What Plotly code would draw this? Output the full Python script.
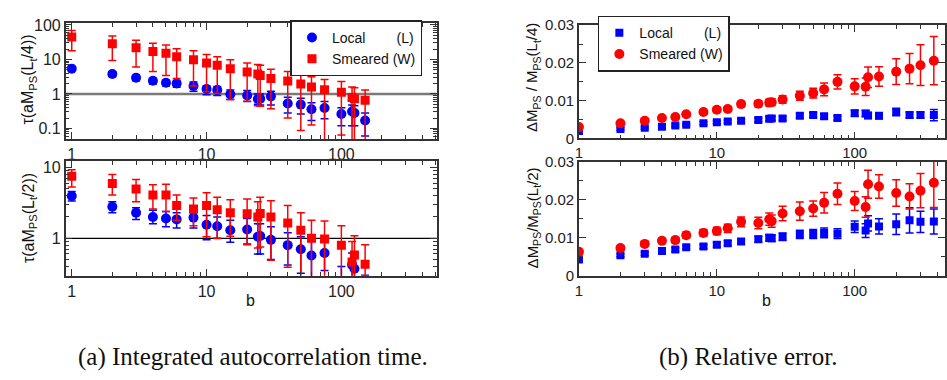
import plotly.graph_objects as go

# ---------------- data ----------------
b_left = [1, 2, 3, 4, 5, 6, 8, 10, 12, 15, 20, 24, 25, 30, 40, 50, 60, 75, 100, 120, 125, 150]
b_right = b_left + [200, 250, 300, 375]

# (a) top: tau(aM_PS(L_t/4))
loc_tau4 = [5.4, 3.8, 2.95, 2.4, 2.1, 2.0, 1.7, 1.38, 1.3, 0.98, 0.9, 0.71, 0.72, 0.85, 0.53, 0.49, 0.36, 0.39, 0.26, 0.31, 0.28, 0.17]
loc_tau4_hi = [6.0, 4.4, 3.5, 2.8, 2.5, 2.45, 2.2, 1.7, 1.65, 1.3, 1.25, 1.0, 1.0, 1.2, 0.8, 0.75, 0.55, 0.6, 0.4, 0.48, 0.45, 0.28]
loc_tau4_lo = [4.8, 3.2, 2.4, 1.95, 1.7, 1.55, 1.2, 0.94, 0.9, 0.7, 0.6, 0.5, 0.48, 0.48, 0.28, 0.26, 0.17, 0.19, 0.12, 0.12, 0.12, 0.06]
sme_tau4 = [45, 28.4, 21.9, 17, 15, 12, 9.8, 7.9, 6.8, 5.4, 4.3, 3.76, 3.4, 2.8, 2.35, 1.94, 1.6, 1.32, 1.11, 0.79, 0.73, 0.66]
sme_tau4_hi = [69, 48, 36, 29.5, 26, 20.5, 17.8, 14, 12, 9.8, 7.9, 7.1, 6.8, 5.2, 4.5, 3.8, 3.16, 2.6, 2.3, 1.6, 1.5, 1.3]
sme_tau4_lo = [17.8, 9.3, 6.0, 4.5, 3.4, 2.8, 1.7, 1.16, 1.05, 0.68, 0.61, 0.45, 0.44, 0.37, 0.2, 0.087, 0.125, 0.03, 0.064, 0.03, 0.03, 0.03]

# (a) bottom: tau(aM_PS(L_t/2))
loc_tau2 = [3.97, 2.8, 2.3, 2.0, 1.9, 1.85, 1.96, 1.55, 1.48, 1.3, 1.33, 1.05, 1.08, 0.95, 0.8, 0.7, 0.57, 0.62, 0.25, 0.42, 0.37, 0.2]
loc_tau2_hi = [4.6, 3.3, 2.7, 2.5, 2.4, 2.3, 2.3, 2.1, 2.0, 1.8, 1.9, 1.6, 1.6, 1.45, 1.2, 1.05, 0.95, 0.9, 0.4, 0.62, 0.6, 0.3]
loc_tau2_lo = [3.37, 2.3, 1.85, 1.6, 1.45, 1.4, 1.4, 0.95, 1.0, 0.88, 0.83, 0.6, 0.6, 0.5, 0.42, 0.32, 0.2, 0.35, 0.1, 0.1, 0.1, 0.1]
sme_tau2 = [7.55, 5.96, 5.0, 4.1, 4.1, 2.9, 2.6, 2.9, 2.54, 2.3, 2.23, 2.0, 2.24, 2.0, 1.65, 1.3, 1.0, 0.98, 0.8, 0.46, 0.58, 0.43]
sme_tau2_hi = [9.3, 7.96, 6.8, 5.7, 5.8, 4.1, 3.7, 4.4, 3.8, 3.5, 3.6, 3.3, 3.8, 3.4, 2.9, 2.3, 1.8, 1.75, 1.5, 0.9, 1.09, 0.81]
sme_tau2_lo = [5.3, 4.1, 3.3, 2.6, 2.4, 1.8, 1.5, 1.05, 0.99, 1.07, 0.81, 0.73, 0.75, 0.49, 0.39, 0.2, 0.2, 0.2, 0.2, 0.2, 0.2, 0.2]

# (b) top: Delta M_PS / M_PS (L_t/4)
loc_rel4 = [0.0020, 0.0025, 0.0028, 0.0031, 0.0034, 0.0036, 0.0040, 0.0043, 0.0045, 0.0047, 0.0049, 0.0052, 0.0053,
            0.0053, 0.0060, 0.0062, 0.0059, 0.0054, 0.0067, 0.0066, 0.0061, 0.0060, 0.0070, 0.0062, 0.0062, 0.0062]
loc_rel4_err = [0.0003, 0.0003, 0.0003, 0.0003, 0.0003, 0.0003, 0.0004, 0.0004, 0.0004, 0.0004, 0.0005, 0.0005, 0.0005,
                0.0005, 0.0006, 0.0006, 0.0006, 0.0006, 0.0008, 0.0008, 0.0008, 0.0008, 0.0010, 0.0008, 0.0008, 0.0015]
sme_rel4 = [0.0030, 0.0040, 0.0047, 0.0054, 0.0057, 0.0064, 0.0070, 0.0076, 0.0078, 0.0091, 0.0092, 0.0095, 0.0096,
            0.0103, 0.0113, 0.0120, 0.0130, 0.0150, 0.0138, 0.0137, 0.0162, 0.0164, 0.0177, 0.0185, 0.0194, 0.0206]
sme_rel4_err = [0.0003, 0.0003, 0.0004, 0.0004, 0.0004, 0.0005, 0.0005, 0.0006, 0.0006, 0.0007, 0.0008, 0.0009, 0.0009,
                0.0010, 0.0012, 0.0013, 0.0017, 0.0019, 0.0020, 0.0023, 0.0027, 0.0026, 0.0034, 0.0040, 0.0054, 0.0064]

# (b) bottom: Delta M_PS / M_PS (L_t/2)
loc_rel2 = [0.0043, 0.0054, 0.0058, 0.0065, 0.0069, 0.0075, 0.0077, 0.0082, 0.0086, 0.0090, 0.0096, 0.0100, 0.0099,
            0.0103, 0.0109, 0.0110, 0.0113, 0.0111, 0.0129, 0.0119, 0.0138, 0.0130, 0.0136, 0.0146, 0.0142, 0.0143]
loc_rel2_err = [0.0004, 0.0004, 0.0004, 0.0005, 0.0005, 0.0005, 0.0005, 0.0006, 0.0006, 0.0007, 0.0008, 0.0009, 0.0009,
                0.0010, 0.0011, 0.0012, 0.0013, 0.0013, 0.0015, 0.0018, 0.0020, 0.0020, 0.0027, 0.0033, 0.0028, 0.0033]
sme_rel2 = [0.0063, 0.0073, 0.0084, 0.0092, 0.0094, 0.0107, 0.0113, 0.0118, 0.0125, 0.0142, 0.0139, 0.0149, 0.0144,
            0.0164, 0.0170, 0.0177, 0.0192, 0.0216, 0.0197, 0.0181, 0.0241, 0.0235, 0.0218, 0.0209, 0.0224, 0.0245]
sme_rel2_err = [0.0005, 0.0006, 0.0006, 0.0006, 0.0007, 0.0008, 0.0009, 0.0010, 0.0011, 0.0013, 0.0015, 0.0016, 0.0016,
                0.0019, 0.0024, 0.0020, 0.0027, 0.0028, 0.0025, 0.0027, 0.0037, 0.0031, 0.0035, 0.0033, 0.0045, 0.0065]

ref_level = 1.0
NB = "\u00a0"
name_loc = "Local" + NB * 8 + "(L)"
name_sme = "Smeared (W)"

BLUE = "#0000ff"
RED = "#ff0000"
SANS = "Liberation Sans, Arial, sans-serif"
SERIF = "Liberation Serif, DejaVu Serif, serif"

fig = go.Figure()


def asym(y, hi, lo):
    return dict(type="data", symmetric=False,
                array=[h - v for h, v in zip(hi, y)],
                arrayminus=[v - l for v, l in zip(y, lo)])


def add(x, y, err, color, symbol, size, xa, ya, name, legend, show):
    fig.add_trace(go.Scatter(
        x=x, y=y, mode="markers", name=name, legend=legend, showlegend=show,
        marker=dict(color=color, symbol=symbol, size=size, line=dict(width=0)),
        error_y=dict(err, color=color, thickness=1.5, width=4),
        xaxis=xa, yaxis=ya, cliponaxis=True))


# reference lines tau = 1 (drawn first so they sit behind the markers)
fig.add_trace(go.Scatter(x=[0.5, 1000], y=[ref_level, ref_level], mode="lines", showlegend=False,
                         line=dict(color="#7a7a7a", width=2.5), xaxis="x", yaxis="y", hoverinfo="skip"))
fig.add_trace(go.Scatter(x=[0.5, 1000], y=[ref_level, ref_level], mode="lines", showlegend=False,
                         line=dict(color="#000000", width=1.3), xaxis="x2", yaxis="y2", hoverinfo="skip"))

# panel (a)
add(b_left, loc_tau4, asym(loc_tau4, loc_tau4_hi, loc_tau4_lo), BLUE, "circle", 10, "x", "y", name_loc, "legend", True)
add(b_left, sme_tau4, asym(sme_tau4, sme_tau4_hi, sme_tau4_lo), RED, "square", 9, "x", "y", name_sme, "legend", True)
add(b_left, loc_tau2, asym(loc_tau2, loc_tau2_hi, loc_tau2_lo), BLUE, "circle", 10, "x2", "y2", name_loc, "legend", False)
add(b_left, sme_tau2, asym(sme_tau2, sme_tau2_hi, sme_tau2_lo), RED, "square", 9, "x2", "y2", name_sme, "legend", False)

# panel (b)
eb = lambda e: dict(type="data", array=e)
add(b_right, loc_rel4, eb(loc_rel4_err), BLUE, "square", 8, "x3", "y3", name_loc, "legend2", True)
add(b_right, sme_rel4, eb(sme_rel4_err), RED, "circle", 10, "x3", "y3", name_sme, "legend2", True)
add(b_right, loc_rel2, eb(loc_rel2_err), BLUE, "square", 8, "x4", "y4", name_loc, "legend2", False)
add(b_right, sme_rel2, eb(sme_rel2_err), RED, "circle", 10, "x4", "y4", name_sme, "legend2", False)

H = 380.0
W = 947.0

minor_log = [m * 10 ** e for e in range(-2, 4) for m in range(2, 10)]

common = dict(showline=True, linecolor="#333333", linewidth=1.5, mirror="allticks",
              ticks="inside", ticklen=7, tickwidth=1.2, tickcolor="#333333",
              showgrid=False, zeroline=False,
              tickfont=dict(family=SANS, size=16, color="#222222"))

def logx(domain, rng, anchor, size=16):
    d = dict(common, type="log", domain=domain, range=rng, anchor=anchor,
             tickmode="array", tickvals=[1, 10, 100], ticktext=["1", "10", "100"],
             minor=dict(tickmode="array", tickvals=minor_log, ticks="inside", ticklen=4,
                        tickwidth=1, tickcolor="#333333", showgrid=False))
    d["tickfont"] = dict(family=SANS, size=size, color="#222222")
    return d

def logy(domain, rng, anchor, vals, texts):
    return dict(common, type="log", domain=domain, range=rng, anchor=anchor,
                tickmode="array", tickvals=vals, ticktext=texts,
                minor=dict(tickmode="array", tickvals=minor_log, ticks="inside", ticklen=4,
                           tickwidth=1, tickcolor="#333333", showgrid=False))

def liny(domain, anchor):
    d = dict(common, type="linear", domain=domain, range=[0, 0.03], anchor=anchor,
             tickmode="array", tickvals=[0, 0.01, 0.02, 0.03], ticktext=["0", "0.01", "0.02", "0.03"],
             minor=dict(tickmode="array", tickvals=[0.005, 0.015, 0.025], ticks="inside", ticklen=4,
                        tickwidth=1, tickcolor="#333333", showgrid=False))
    d["tickfont"] = dict(family=SANS, size=15, color="#222222")
    return d

xl = [62 / W, 435 / W]
xr = [578 / W, 946 / W]
ytop_l = [1 - 136 / H, 1 - 15 / H]
ybot_l = [1 - 279.3 / H, 1 - 159 / H]
ytop_r = [1 - 135.5 / H, 1 - 17 / H]
ybot_r = [1 - 279.3 / H, 1 - 160 / H]

fig.update_layout(
    width=947, height=380, margin=dict(l=0, r=0, t=0, b=0),
    paper_bgcolor="white", plot_bgcolor="white",
    xaxis=logx(xl, [-0.045, 2.707], "y"),
    yaxis=logy(ytop_l, [-1.305, 2.047], "x", [0.1, 1, 10, 100], ["0.1", "1", "10", "100"]),
    xaxis2=logx(xl, [-0.045, 2.707], "y2"),
    yaxis2=logy(ybot_l, [-0.531, 1.095], "x2", [1, 10], ["1", "10"]),
    xaxis3=logx(xr, [0, 2.655], "y3", 15),
    yaxis3=liny(ytop_r, "x3"),
    xaxis4=logx(xr, [0, 2.655], "y4", 15),
    yaxis4=liny(ybot_r, "x4"),
    legend=dict(x=288 / W, y=1 - 12 / H, xanchor="left", yanchor="top",
                bgcolor="white", bordercolor="#222222", borderwidth=1.5,
                font=dict(family=SANS, size=14, color="#111111"),
                itemwidth=30, tracegroupgap=0),
    legend2=dict(x=597 / W, y=1 - 7 / H, xanchor="left", yanchor="top",
                 bgcolor="white", bordercolor="#222222", borderwidth=1.5,
                 font=dict(family=SANS, size=14, color="#111111"),
                 itemwidth=30, tracegroupgap=0),
    showlegend=True,
)

ann = []
def text(x, y, s, size=14, angle=0, family=SANS):
    ann.append(dict(x=x / W, y=1 - y / H, xref="paper", yref="paper", text=s, showarrow=False,
                    textangle=angle, font=dict(family=family, size=size, color="#111111"),
                    xanchor="center", yanchor="middle"))

text(25, 74, "τ(aM<sub>PS</sub>(L<sub>t</sub>/4))", 16, -90)
text(25, 219, "τ(aM<sub>PS</sub>(L<sub>t</sub>/2))", 16, -90)
text(532, 72, "ΔM<sub>PS</sub> / M<sub>PS</sub>(L<sub>t</sub>/4)", 15, -90)
text(532, 219, "ΔM<sub>PS</sub>/M<sub>PS</sub>(L<sub>t</sub>/2)", 15, -90)
text(248, 305, "b", 16)
text(767, 305, "b", 16)
text(250, 364, "(a) Integrated autocorrelation time.", 25, 0, SERIF)
text(748, 364, "(b) Relative error.", 25, 0, SERIF)
fig.update_layout(annotations=ann)

fig.write_html("out.html")
